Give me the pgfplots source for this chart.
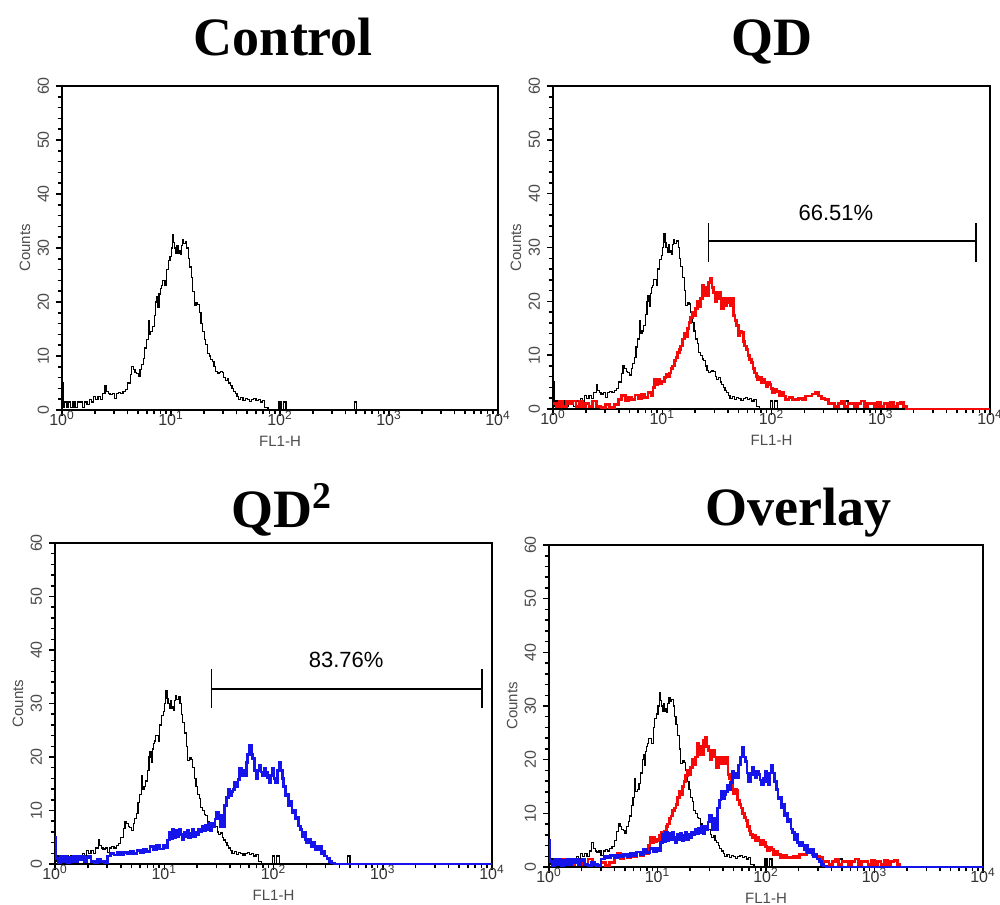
\documentclass[border=0pt]{standalone}
\usepackage{fontspec}
\setmainfont{Liberation Serif}
\newfontfamily\lsans{Liberation Sans}
\usepackage{pgfplots}
\usepackage{pgfplotstable}
\pgfplotsset{compat=1.18}

% x values are log10(FL1-H)
\pgfplotstableread{
lx cnt
0.000 5
0.010 0.5
0.025 1.5
0.045 0.5
0.060 1.5
0.080 0.5
0.100 1.5
0.120 0.5
0.140 1.5
0.160 1.5
0.190 0.5
0.210 1.5
0.230 1
0.250 2
0.270 1.5
0.290 2.5
0.310 2
0.330 2.5
0.350 2
0.370 3
0.395 4.5
0.410 3.5
0.425 3
0.440 2.8
0.460 3
0.480 2.2
0.500 3
0.520 3.3
0.540 3
0.560 3.5
0.580 3.8
0.600 5
0.625 6.6
0.640 8
0.655 7.5
0.670 7
0.685 6.8
0.700 6.3
0.715 7.5
0.730 8.5
0.745 9.5
0.760 11.5
0.775 13
0.790 16.5
0.800 14
0.815 14.5
0.830 15.5
0.845 17.5
0.860 20
0.870 21
0.880 19
0.890 21.5
0.900 22.5
0.910 23
0.920 24
0.930 24
0.945 23
0.960 26
0.975 27.7
0.990 28.5
1.005 30
1.015 32.5
1.025 31
1.035 30
1.045 29
1.055 30.5
1.065 29
1.075 29.5
1.085 28.8
1.095 30.5
1.105 31.5
1.115 30.8
1.130 31.2
1.145 30
1.160 28
1.170 26.5
1.185 24.5
1.200 22
1.215 19.3
1.230 19.8
1.245 19.5
1.260 18
1.275 16
1.290 14.5
1.305 13
1.320 12.2
1.335 10.5
1.350 10
1.365 9.3
1.380 9
1.395 8
1.410 7.2
1.425 6.8
1.440 7
1.455 7.2
1.470 7
1.485 6
1.500 5.5
1.515 5.8
1.530 5
1.545 4.5
1.560 4
1.575 3.5
1.590 3
1.605 2.5
1.620 2
1.640 2.3
1.660 1.8
1.680 2.2
1.700 2
1.720 1.6
1.740 2
1.760 2.2
1.780 1.8
1.800 2
1.820 1.5
1.840 1.8
1.860 0.5
1.890 0
1.990 1.5
2.010 0
2.030 1.5
2.055 0
2.680 1.5
2.700 0
2.780 0
}\ctrldata

\pgfplotstableread{
lx cnt
0.000 1
0.030 0.5
0.060 1.5
0.090 0.5
0.120 1.5
0.150 1
0.180 1.5
0.210 0.5
0.240 1.5
0.270 0.5
0.300 1
0.330 0.5
0.360 1.5
0.400 0.5
0.440 0.3
0.480 0.8
0.520 0.3
0.560 0.8
0.600 1.8
0.630 2.5
0.660 1.5
0.690 2.2
0.720 1.8
0.750 2.6
0.780 2
0.810 2.8
0.840 2.2
0.870 3
0.900 2.5
0.915 4
0.930 5.5
0.945 4.6
0.960 5.5
0.975 4.8
0.990 5.2
1.005 5
1.020 5.8
1.035 6.5
1.050 6
1.065 6.7
1.080 7.5
1.095 8
1.110 9
1.125 9.5
1.140 10.5
1.155 11
1.170 11.7
1.185 13
1.200 14
1.215 13.5
1.230 15
1.245 16
1.260 17
1.275 18
1.290 17.3
1.305 18.6
1.320 20
1.335 19
1.350 20.5
1.365 23
1.380 21
1.395 22.5
1.410 21
1.425 23.5
1.440 24.2
1.455 22.5
1.470 21.7
1.485 20
1.500 20.5
1.515 21.7
1.530 20.5
1.545 18.6
1.560 20.5
1.575 19.2
1.590 20.5
1.605 19.8
1.620 19.2
1.635 20.5
1.650 17.3
1.665 16.5
1.680 15.5
1.695 13.6
1.710 14.5
1.725 14.2
1.740 12.5
1.755 11.7
1.770 11
1.785 9.9
1.800 9.2
1.815 8.6
1.830 7.5
1.845 6.7
1.860 6
1.875 5.5
1.890 5.8
1.905 4.9
1.920 5.5
1.935 4.9
1.950 4.2
1.965 4.9
1.980 4.5
1.995 3.8
2.010 3
2.030 3.6
2.050 3.2
2.070 2.4
2.090 3
2.110 2.4
2.130 1.7
2.160 2.2
2.190 1.7
2.220 1.7
2.250 2
2.280 1.7
2.310 2.4
2.340 2.4
2.370 2.8
2.400 3
2.430 2.4
2.460 2
2.490 1.7
2.520 1
2.550 1
2.580 0.5
2.610 1
2.640 1.5
2.670 0.5
2.700 1
2.730 1
2.760 0.5
2.790 1
2.820 1.5
2.850 0.5
2.880 1
2.910 1
2.940 0.5
2.970 1.2
3.000 0.5
3.030 1
3.060 0.5
3.090 1.2
3.120 0.5
3.150 1
3.180 1.2
3.210 0.5
3.235 0
4.000 0
}\qddata

\pgfplotstableread{
lx cnt
0.000 5
0.010 1
0.030 0.3
0.050 1.5
0.070 0.5
0.090 1.5
0.110 0.3
0.130 1.2
0.150 0.5
0.170 1.5
0.190 0.5
0.210 1.5
0.230 0.8
0.250 1.5
0.270 0.5
0.290 1.2
0.310 1.5
0.330 0.5
0.360 0.3
0.390 0.8
0.420 0.5
0.450 0.3
0.480 1.5
0.510 2
0.540 1.7
0.570 2.2
0.600 1.8
0.630 2.2
0.660 1.9
0.690 2.4
0.720 2
0.750 2.5
0.780 2.2
0.810 2.8
0.840 2.3
0.870 3.2
0.900 2.7
0.930 3.4
0.960 2.8
0.990 3.4
1.010 3
1.030 4.5
1.045 6
1.060 4.8
1.075 6.5
1.090 5
1.105 6.2
1.120 5.2
1.135 6.5
1.150 5.5
1.165 4.5
1.180 6
1.195 5.2
1.210 6.2
1.225 5
1.240 5.8
1.255 6.5
1.270 5.2
1.285 6
1.300 5.5
1.315 6.5
1.330 6
1.345 7
1.360 6.3
1.375 7.2
1.390 6.5
1.405 7.5
1.420 6.2
1.435 7.5
1.450 7
1.465 8.4
1.480 9.6
1.495 8.5
1.510 7
1.525 9
1.540 7
1.555 11
1.570 12.5
1.585 14
1.600 12.8
1.615 13.5
1.630 14
1.645 15.3
1.660 14.5
1.675 15.8
1.690 17.8
1.705 16.6
1.720 17.5
1.735 16.6
1.750 19
1.765 20.5
1.780 22.2
1.795 20.5
1.810 19.7
1.825 17.5
1.840 16
1.855 17.5
1.870 18.5
1.885 17.2
1.900 16.6
1.915 17.8
1.930 17.2
1.945 16.2
1.960 15.3
1.975 16.5
1.990 17.8
2.005 16
2.020 15.3
2.035 17.5
2.050 19
2.065 17.5
2.080 16
2.095 14.5
2.110 12.8
2.125 13
2.140 11
2.155 11.7
2.170 9.6
2.185 10
2.200 8.4
2.215 8.8
2.230 7.1
2.245 6.5
2.260 5.2
2.275 6
2.290 4.5
2.305 4
2.320 4.6
2.335 4
2.350 3.3
2.365 4
2.380 2.7
2.395 3.3
2.410 2.7
2.425 3.3
2.440 2
2.455 2.4
2.470 1.5
2.490 1.1
2.510 0.5
2.530 0.2
2.560 0
4.000 0
}\qdqdata

\pgfplotsset{
  facs/.style={
    scale only axis,
    xmin=0, xmax=4, ymin=0, ymax=60,
    xtick={0,1,2,3,4},
    xticklabels={10\textsuperscript{0},10\textsuperscript{1},10\textsuperscript{2},10\textsuperscript{3},10\textsuperscript{4}},
    minor xtick={0.301,0.477,0.602,0.699,0.778,0.845,0.903,0.954,
                 1.301,1.477,1.602,1.699,1.778,1.845,1.903,1.954,
                 2.301,2.477,2.602,2.699,2.778,2.845,2.903,2.954,
                 3.301,3.477,3.602,3.699,3.778,3.845,3.903,3.954},
    ytick={0,10,20,30,40,50,60},
    minor ytick={2,4,6,8,12,14,16,18,22,24,26,28,32,34,36,38,42,44,46,48,52,54,56,58},
    tick pos=left, tick align=outside,
    major tick length=3pt, minor tick length=2.2pt,
    tick style={black, line width=0.75pt},
    axis line style={line width=1pt},
    tick label style={font=\lsans\fontsize{8}{9}\selectfont, color=black!70},
    /pgf/number format/assume math mode=true,
    yticklabel style={rotate=90, anchor=south},
    xticklabel style={anchor=north, inner sep=0pt, yshift=2.5pt, color=black!80},
    xlabel={FL1-H}, ylabel={Counts},
    label style={font=\lsans\fontsize{7.5}{9}\selectfont, color=black!70},
    xlabel style={at={(axis description cs:0.5,0)}, anchor=base, yshift=-18pt},
    ylabel style={at={(axis description cs:-0.085,0.5)}, anchor=center},
    clip=false,
    every axis title/.style={at={(0.5,1)}, anchor=base, font=\bfseries\fontsize{27}{30}\selectfont},
  },
  ctrlline/.style={black, line width=0.6pt, const plot},
  redline/.style={color={rgb,255:red,245;green,10;blue,10}, line width=1.4pt, const plot},
  blueline/.style={color={rgb,255:red,20;green,20;blue,235}, line width=1.4pt, const plot},
}

\begin{document}
\begin{tikzpicture}
\useasboundingbox (0,0) rectangle (500pt,-452pt);

% Control
\begin{axis}[facs, at={(31pt,-205pt)}, anchor=south west, width=218pt, height=162pt,
  title={Control}, title style={yshift=15.5pt, xshift=1.75pt}]
\addplot[ctrlline] table[x=lx, y=cnt] {\ctrldata};
\end{axis}

% QD
\begin{axis}[facs, at={(276.5pt,-204.5pt)}, anchor=south west, width=218.5pt, height=161.5pt,
  title={QD}, title style={yshift=15.5pt}]
\addplot[ctrlline] table[x=lx, y=cnt] {\ctrldata};
\addplot[redline] table[x=lx, y=cnt] {\qddata};
\draw[line width=0.7pt] (axis cs:1.421,31.2) -- (axis cs:3.872,31.2);
\draw[line width=0.7pt] (axis cs:1.421,27.3) -- (axis cs:1.421,34.6);
\draw[line width=0.7pt] (axis cs:3.872,27.3) -- (axis cs:3.872,34.6);
\node[anchor=base, font=\lsans\fontsize{11}{13}\selectfont, inner sep=0pt] at (axis cs:2.59,35.1) {66.51\%};
\end{axis}

% QD^2
\begin{axis}[facs, at={(27.5pt,-432pt)}, anchor=south west, width=218.5pt, height=160.5pt,
  title={QD\textsuperscript{2}}, title style={yshift=8pt, xshift=4pt}]
\addplot[ctrlline] table[x=lx, y=cnt] {\ctrldata};
\addplot[blueline] table[x=lx, y=cnt] {\qdqdata};
\draw[line width=0.7pt] (axis cs:1.435,32.7) -- (axis cs:3.907,32.7);
\draw[line width=0.7pt] (axis cs:1.435,29.1) -- (axis cs:1.435,36.4);
\draw[line width=0.7pt] (axis cs:3.907,29.1) -- (axis cs:3.907,36.4);
\node[anchor=base, font=\lsans\fontsize{11}{13}\selectfont, inner sep=0pt] at (axis cs:2.665,36.8) {83.76\%};
\end{axis}

% Overlay
\begin{axis}[facs, at={(274.5pt,-433.5pt)}, anchor=south west, width=217pt, height=161pt,
  title={Overlay}, title style={yshift=10pt, xshift=16pt}]
\addplot[ctrlline] table[x=lx, y=cnt] {\ctrldata};
\addplot[redline] table[x=lx, y=cnt] {\qddata};
\addplot[blueline] table[x=lx, y=cnt] {\qdqdata};
\end{axis}
\end{tikzpicture}
\end{document}
